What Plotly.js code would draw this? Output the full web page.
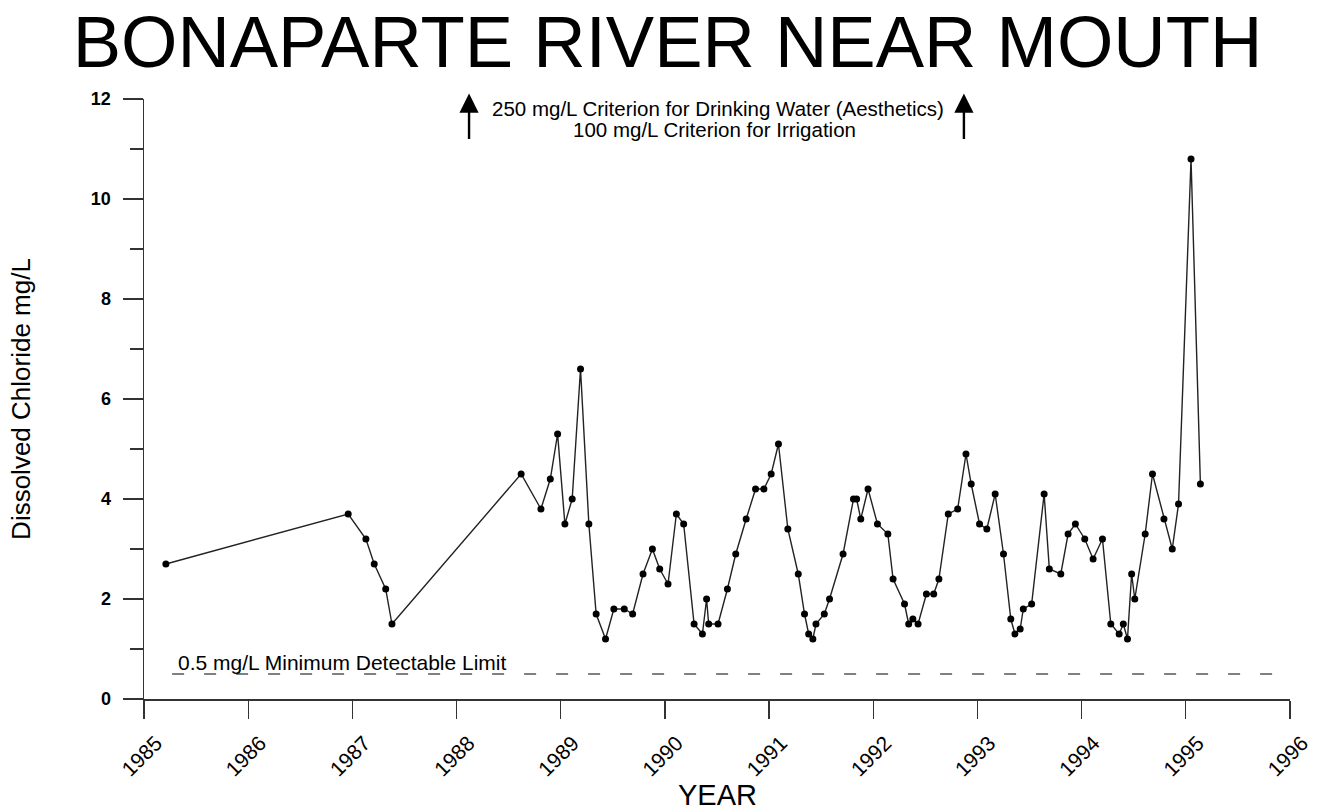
<!DOCTYPE html>
<html>
<head>
<meta charset="utf-8">
<script src="https://cdn.plot.ly/plotly-3.0.1.min.js"></script>
<style>
  html, body { margin: 0; padding: 0; background: #fff; }
  #chart { width: 1335px; height: 810px; }
</style>
</head>
<body>
<div id="chart"></div>
<script>
// Sample dates (decimal years) and dissolved chloride values (mg/L)
const sampleYears = [1985.21, 1986.96, 1987.13, 1987.21, 1987.32, 1987.38, 1988.62, 1988.81, 1988.90, 1988.97,
  1989.04, 1989.11, 1989.19, 1989.27, 1989.34, 1989.43, 1989.51, 1989.61, 1989.69, 1989.79,
  1989.88, 1989.95, 1990.03, 1990.11, 1990.18, 1990.28, 1990.36, 1990.40, 1990.42, 1990.51,
  1990.60, 1990.68, 1990.78, 1990.87, 1990.95, 1991.02, 1991.09, 1991.18, 1991.28, 1991.34,
  1991.38, 1991.42, 1991.45, 1991.53, 1991.58, 1991.71, 1991.81, 1991.84, 1991.88, 1991.95,
  1992.04, 1992.14, 1992.19, 1992.30, 1992.34, 1992.38, 1992.43, 1992.51, 1992.58, 1992.63,
  1992.72, 1992.81, 1992.89, 1992.94, 1993.02, 1993.09, 1993.17, 1993.25, 1993.32, 1993.36,
  1993.41, 1993.44, 1993.52, 1993.64, 1993.69, 1993.80, 1993.87, 1993.94, 1994.03, 1994.11,
  1994.20, 1994.28, 1994.36, 1994.40, 1994.44, 1994.48, 1994.51, 1994.61, 1994.68, 1994.79,
  1994.87, 1994.93, 1995.05, 1995.14];
const chloride = [2.7, 3.7, 3.2, 2.7, 2.2, 1.5, 4.5, 3.8, 4.4, 5.3,
  3.5, 4.0, 6.6, 3.5, 1.7, 1.2, 1.8, 1.8, 1.7, 2.5,
  3.0, 2.6, 2.3, 3.7, 3.5, 1.5, 1.3, 2.0, 1.5, 1.5,
  2.2, 2.9, 3.6, 4.2, 4.2, 4.5, 5.1, 3.4, 2.5, 1.7,
  1.3, 1.2, 1.5, 1.7, 2.0, 2.9, 4.0, 4.0, 3.6, 4.2,
  3.5, 3.3, 2.4, 1.9, 1.5, 1.6, 1.5, 2.1, 2.1, 2.4,
  3.7, 3.8, 4.9, 4.3, 3.5, 3.4, 4.1, 2.9, 1.6, 1.3,
  1.4, 1.8, 1.9, 4.1, 2.6, 2.5, 3.3, 3.5, 3.2, 2.8,
  3.2, 1.5, 1.3, 1.5, 1.2, 2.5, 2.0, 3.3, 4.5, 3.6,
  3.0, 3.9, 10.8, 4.3];

const yearTicks = [1985, 1986, 1987, 1988, 1989, 1990, 1991, 1992, 1993, 1994, 1995, 1996];
const yearLabels = ["1985", "1986", "1987", "1988", "1989", "1990", "1991", "1992", "1993", "1994", "1995", "1996"];
const chlorideTicks = [0, 2, 4, 6, 8, 10, 12];

const detectLimit = 0.5;
const detectLimitSpan = [1985.27, 1995.93];
const criterionArrowYears = [1988.12, 1992.87];

const FONT = "Liberation Sans, Arial, sans-serif";

const traces = [
  {
    x: detectLimitSpan,
    y: [detectLimit, detectLimit],
    mode: "lines",
    line: { color: "#000", width: 1, dash: "12px,20px" },
    hoverinfo: "skip",
    showlegend: false
  },
  {
    x: sampleYears,
    y: chloride,
    mode: "lines+markers",
    line: { color: "#222", width: 1.4 },
    marker: { color: "#000", size: 7 },
    showlegend: false,
    cliponaxis: false
  }
];

const annotations = [
  {
    xref: "paper", yref: "paper", x: 0.5, y: 1.0,
    xanchor: "center", yanchor: "middle", yshift: -9, xshift: 1,
    text: "250 mg/L Criterion for Drinking Water (Aesthetics)",
    showarrow: false,
    font: { family: FONT, size: 20.5, color: "#000" }
  },
  {
    xref: "paper", yref: "paper", x: 0.5, y: 1.0,
    xanchor: "center", yanchor: "middle", yshift: -30, xshift: -3,
    text: "100 mg/L Criterion for Irrigation",
    showarrow: false,
    font: { family: FONT, size: 20.5, color: "#000" }
  },
  {
    xref: "paper", yref: "paper", x: 0.028, y: 0.73 / 12,
    xanchor: "left", yanchor: "middle",
    text: "0.5 mg/L Minimum Detectable Limit",
    showarrow: false,
    font: { family: FONT, size: 21, color: "#000" }
  },
  {
    xref: "paper", yref: "paper", x: 0.5, y: 0,
    xanchor: "center", yanchor: "middle", yshift: -96,
    text: "YEAR",
    showarrow: false,
    font: { family: FONT, size: 29, color: "#000" }
  }
];
criterionArrowYears.forEach(function (yr) {
  annotations.push({
    xref: "x", yref: "paper", x: yr, y: 1.009,
    ax: 0, ay: 47,
    text: "", showarrow: true,
    arrowhead: 2, arrowsize: 1.6, arrowwidth: 2.4, arrowcolor: "#000"
  });
});

const layout = {
  width: 1335,
  height: 810,
  paper_bgcolor: "#fff",
  plot_bgcolor: "#fff",
  font: { family: FONT, color: "#000" },
  margin: { l: 144, r: 45, t: 99, b: 111 },
  showlegend: false,
  title: {
    text: "BONAPARTE RIVER NEAR MOUTH",
    font: { family: FONT, size: 72.5, color: "#000" },
    xref: "container", yref: "container",
    x: 0.5, y: 1 - 42 / 810, xanchor: "center", yanchor: "middle"
  },
  xaxis: {
    range: [1985, 1996],
    tickvals: yearTicks,
    ticktext: yearLabels,
    tickangle: -45,
    ticks: "outside",
    ticklen: 18,
    tickwidth: 1.2,
    tickcolor: "#333",
    showline: true,
    linecolor: "#333",
    linewidth: 1.5,
    showgrid: false,
    zeroline: false,
    tickfont: { family: FONT, size: 21, color: "#000" },
    ticklabelshift: 12,
    ticklabelstandoff: 4,
    automargin: false
  },
  yaxis: {
    range: [0, 12],
    tickvals: chlorideTicks,
    ticks: "outside",
    ticklen: 20,
    tickwidth: 1.2,
    tickcolor: "#333",
    minor: { dtick: 1, ticks: "outside", ticklen: 13, tickwidth: 1.2, tickcolor: "#333" },
    showline: true,
    linecolor: "#333",
    linewidth: 1.5,
    showgrid: false,
    zeroline: false,
    tickfont: { family: FONT, size: 18, color: "#000", weight: "bold" },
    ticklabelstandoff: 8,
    title: { text: "Dissolved Chloride mg/L", font: { family: FONT, size: 26, color: "#000" }, standoff: 53 },
    automargin: false
  },
  annotations: annotations
};

Plotly.newPlot("chart", traces, layout, { displayModeBar: false, staticPlot: true });
</script>
</body>
</html>
